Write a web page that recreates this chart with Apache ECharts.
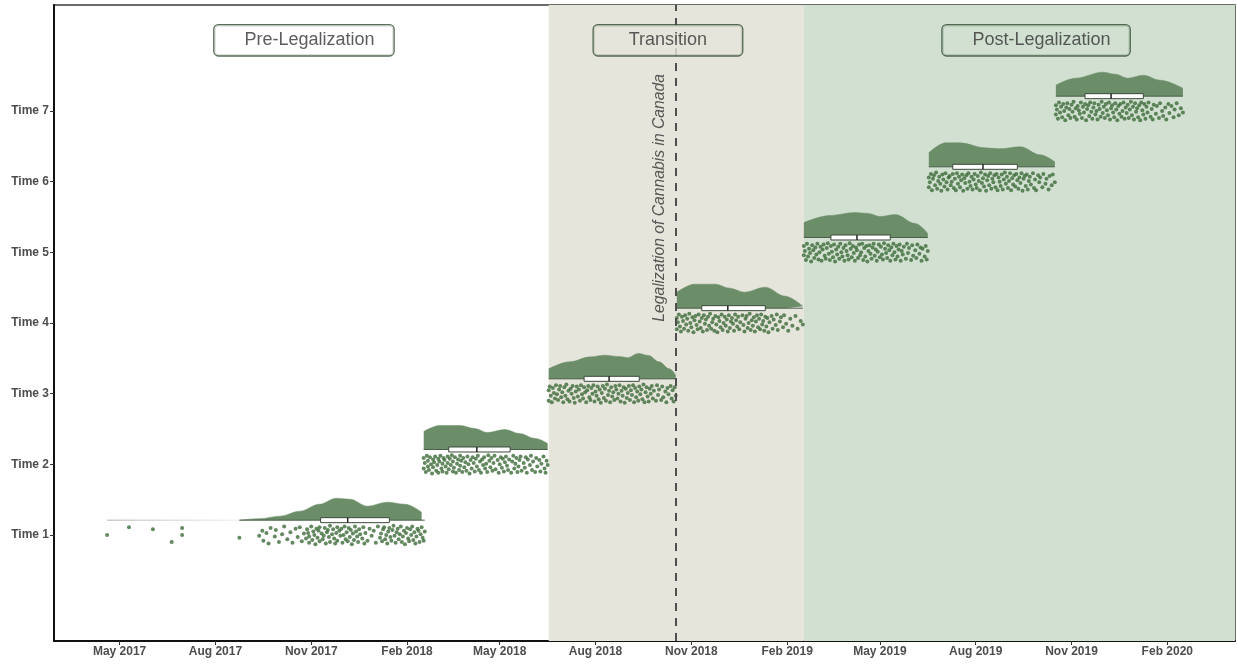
<!DOCTYPE html>
<html>
<head>
<meta charset="utf-8">
<title>Raincloud by wave</title>
<script src="https://cdn.jsdelivr.net/npm/echarts@6/dist/echarts.min.js"></script>
<style>
  html, body { margin: 0; padding: 0; background: #fff; }
  #main { width: 1237px; height: 664px; }
</style>
</head>
<body>
<div id="main"></div>
<script>
// x values are days counted from 1 Jan 2017
var tickDays = [120, 212, 304, 396, 485, 577, 669, 761, 850, 942, 1034, 1126];
var tickLabels = ['May 2017', 'Aug 2017', 'Nov 2017', 'Feb 2018', 'May 2018', 'Aug 2018',
                  'Nov 2018', 'Feb 2019', 'May 2019', 'Aug 2019', 'Nov 2019', 'Feb 2020'];
var timeValues = [1, 2, 3, 4, 5, 6, 7];
var timeLabels = ['Time 1', 'Time 2', 'Time 3', 'Time 4', 'Time 5', 'Time 6', 'Time 7'];

var transitionStart = 532;
var postStart = 777;
var legalizationDay = 654;
var phaseNames = ['Pre-Legalization', 'Transition', 'Post-Legalization'];
var legalizationText = 'Legalization of Cannabis in Canada';

// density outline of each wave: [day, height]
var violin1 = [[235,0],[254,0.02],[274,0.057],[293,0.127],[312,0.226],[328,0.311],[341,0.297],[358,0.198],[377,0.255],[394,0.226],[410,0.113]];
var violin2 = [[412,0.255],[427,0.34],[447,0.34],[461,0.297],[473,0.24],[490,0.283],[504,0.226],[519,0.156],[531,0.085]];
var violin3 = [[532,0.141],[552,0.24],[572,0.311],[586,0.335],[600,0.315],[608,0.3],[618,0.36],[628,0.33],[638,0.24],[648,0.141],[654,0.05]];
var violin4 = [[655,0.226],[672,0.34],[692,0.34],[706,0.283],[720,0.226],[740,0.297],[759,0.17],[776,0.028]];
var violin5 = [[777,0.212],[802,0.311],[826,0.354],[839,0.34],[850,0.297],[865,0.325],[884,0.198],[896,0.057]];
var violin6 = [[897,0.198],[913,0.34],[927,0.34],[951,0.269],[965,0.255],[985,0.283],[1004,0.17],[1018,0.071]];
var violin7 = [[1019,0.156],[1038,0.255],[1064,0.34],[1076,0.311],[1088,0.255],[1103,0.297],[1119,0.226],[1141,0.113]];

// box per wave: [min, q1, median, q3, max, time]
var boxes = [
  [235, 313, 339, 379, 413, 1],
  [412, 436, 463, 495, 531, 2],
  [532, 566, 590, 619, 654, 3],
  [655, 679, 704, 740, 776, 4],
  [777, 803, 828, 860, 896, 5],
  [897, 920, 949, 982, 1018, 6],
  [1019, 1047, 1072, 1103, 1141, 7]
];
var tail1 = [108, 235];

// responses: [day, jitter in hundredths of a time step]
var points1 = [[108,0],[129,11],[152,8],[170,-10],[180,10],[180,0],[235,-4],[254,-1],
  [257,6],[258,-8],[261,3],[263,-12],[265,10],[269,-2],[270,7],[273,-10],[276,1],[278,12],[281,-6],[284,4],[286,-11],[289,9],[291,-3],[293,11],[295,-9],[297,2],[299,-5],
  [300,8],[301,3],[302,-11],[302,-2],[304,12],[305,-7],[306,5],[307,0],[308,-13],[309,9],
  [310,-4],[311,6],[312,-9],[312,11],[314,2],[315,-6],[316,-1],[317,10],[318,-12],[319,4],
  [320,7],[321,-3],[322,-10],[322,13],[324,1],[325,8],[326,-5],[327,-12],[328,3],[329,11],
  [329,-8],[331,6],[332,-1],[333,9],[334,-11],[335,0],[336,12],[337,-6],[338,4],[339,-9],
  [340,10],[341,-3],[342,7],[343,-13],[344,2],[345,-7],[346,12],[347,5],[348,-2],[349,-10],
  [350,8],[351,1],[353,-5],[354,11],[355,-12],[356,3],[358,-8],[360,9],[362,-1],[364,6],
  [366,-11],[368,12],[370,-4],[371,2],[372,-9],[373,8],[374,11],[375,-6],[376,0],[377,-12],
  [378,5],[379,10],[380,-3],[381,-8],[382,7],[383,13],[384,-1],[385,-11],[386,4],[387,9],
  [388,-6],[389,1],[390,12],[391,-10],[392,-2],[393,6],[394,-13],[395,3],[396,10],[397,-5],
  [398,-9],[399,8],[400,0],[401,12],[402,-7],[403,4],[404,-12],[405,-2],[406,9],[407,6],
  [408,-10],[409,1],[410,11],[411,-4],[412,-8],[413,5]];
var points2 = [[412,-6],[412,9],[413,2],[414,-11],[415,12],[416,-3],[416,5],[417,-8],[418,10],[419,0],
  [420,-13],[421,7],[421,-4],[422,3],[423,11],[424,-9],[425,-1],[426,8],[426,-12],[427,4],
  [428,12],[429,-6],[430,1],[430,-10],[431,9],[432,6],[433,-3],[434,-12],[435,11],[435,2],
  [436,-7],[437,8],[438,-1],[439,13],[440,-10],[440,4],[441,-5],[442,10],[443,-12],[444,1],
  [445,7],[446,-8],[447,12],[447,-2],[448,5],[449,-11],[450,9],[451,-4],[452,3],[453,-9],
  [454,11],[455,0],[456,-13],[457,6],[458,-6],[459,10],[460,2],[461,-10],[462,8],[463,-3],
  [464,12],[465,-8],[466,4],[467,-12],[468,7],[469,-1],[470,10],[471,-6],[472,1],[473,-11],
  [474,13],[475,5],[476,-4],[477,9],[478,-9],[479,2],[480,12],[481,-7],[483,6],[484,-12],
  [485,0],[486,10],[487,-5],[488,8],[489,-10],[490,3],[491,11],[492,-2],[493,-8],[494,7],
  [496,-12],[497,4],[498,12],[499,-6],[500,1],[501,9],[502,-11],[503,-3],[504,6],[505,11],
  [506,-9],[508,2],[509,-5],[510,10],[511,-12],[512,7],[514,-1],[515,12],[516,-8],[517,4],
  [519,-11],[520,9],[521,-3],[523,6],[524,-10],[525,1],[527,11],[528,-6],[529,-12],[530,5],[531,-1]];
var points3 = [[532,5],[532,-10],[533,10],[534,-3],[535,-12],[536,8],[537,1],[538,-7],[539,12],[540,-1],
  [541,-9],[542,6],[543,11],[544,-5],[545,2],[546,-12],[547,9],[548,-3],[549,13],[550,-8],
  [551,4],[552,-11],[553,7],[554,0],[555,11],[556,-6],[557,-13],[558,3],[559,10],[560,-4],
  [561,6],[562,-10],[563,12],[564,-1],[565,-7],[566,9],[567,2],[568,-12],[569,5],[570,11],
  [571,-5],[572,-9],[573,8],[574,0],[575,12],[576,-11],[577,3],[578,-3],[579,10],[580,-8],
  [581,6],[582,-13],[583,1],[584,11],[585,-6],[586,7],[587,-10],[588,13],[589,-2],[590,4],
  [591,-12],[592,9],[593,-4],[594,2],[595,-9],[596,11],[597,6],[598,-7],[599,0],[600,12],
  [601,-11],[602,4],[603,-3],[604,9],[605,-13],[606,7],[607,-6],[608,1],[609,11],[610,-9],
  [611,5],[612,-2],[613,12],[614,-12],[615,8],[616,-5],[617,3],[618,-10],[619,10],[620,-1],
  [621,6],[622,-8],[623,13],[624,-12],[625,2],[626,9],[627,-4],[628,-11],[629,7],[630,0],
  [631,11],[632,-7],[633,4],[635,-10],[636,12],[637,-2],[638,6],[640,-9],[641,10],[642,-5],
  [644,3],[645,-12],[646,8],[647,-1],[649,11],[650,-7],[651,5],[652,-11],[653,9],[654,-3]];
var points4 = [[655,7],[655,-9],[656,1],[657,12],[658,-5],[659,-12],[660,9],[661,3],[662,-8],[663,11],
  [664,-2],[665,6],[666,-11],[667,13],[668,0],[669,-6],[670,8],[671,-13],[672,4],[673,10],
  [674,-3],[675,-9],[676,12],[677,2],[678,-7],[679,7],[680,-12],[681,11],[682,-1],[683,5],
  [684,-10],[685,9],[686,-4],[687,13],[688,-8],[689,1],[690,6],[691,-11],[692,10],[693,-2],
  [694,-13],[695,8],[696,3],[697,-6],[698,12],[699,-10],[700,0],[701,9],[702,-4],[703,5],
  [704,-12],[705,11],[706,-7],[707,2],[708,7],[709,-1],[710,-11],[711,12],[712,4],[713,-5],
  [714,9],[715,-9],[716,1],[718,11],[719,-3],[720,-12],[721,6],[722,10],[723,-7],[724,0],
  [725,13],[726,-10],[727,4],[728,-4],[729,8],[730,-12],[731,2],[732,11],[733,-6],[734,6],
  [735,-9],[736,12],[737,-2],[738,3],[739,-11],[740,9],[741,-5],[742,7],[743,-13],[744,1],
  [746,10],[747,-8],[748,5],[750,-3],[751,12],[752,-10],[754,2],[755,8],[757,-6],[758,11],
  [760,-1],[762,-11],[764,6],[766,-4],[769,10],[771,-8],[774,3],[776,-2]];
var points5 = [[777,-4],[777,9],[778,2],[779,-11],[780,12],[781,-6],[782,5],[783,-1],[784,-13],[785,10],
  [786,3],[787,-8],[788,7],[789,-3],[790,12],[791,-10],[792,0],[793,8],[794,-12],[795,4],
  [796,11],[797,-5],[798,-9],[799,6],[800,13],[801,-2],[802,-11],[803,9],[804,1],[805,-7],
  [806,11],[807,-13],[808,4],[809,-3],[810,8],[811,-9],[812,12],[813,0],[814,-6],[815,6],
  [816,-12],[817,10],[818,2],[819,-4],[820,-10],[821,13],[822,5],[823,-7],[824,9],[825,-1],
  [826,-12],[827,7],[828,3],[829,-8],[830,11],[831,-4],[832,0],[833,12],[834,-11],[835,6],
  [836,-6],[837,9],[838,-13],[839,2],[840,10],[841,-2],[842,-9],[843,7],[844,12],[845,-5],
  [846,4],[847,-12],[848,1],[849,11],[850,-7],[851,8],[852,-3],[853,-10],[854,13],[855,5],
  [856,-1],[857,-8],[858,10],[859,3],[860,-12],[861,7],[862,-4],[863,12],[864,0],[865,-10],
  [866,9],[867,-6],[868,4],[869,11],[870,-12],[871,2],[872,-3],[873,8],[875,-9],[876,12],
  [877,-1],[878,6],[880,-11],[881,10],[882,-5],[884,3],[885,-8],[886,11],[888,-2],[889,7],
  [890,-12],[891,5],[893,-6],[894,9],[895,-10],[896,2]];
var points6 = [[897,6],[897,-8],[898,-1],[899,11],[900,-12],[901,4],[902,9],[903,-5],[904,13],[905,-10],
  [906,1],[907,7],[908,-3],[909,-13],[910,10],[911,3],[912,-7],[913,12],[914,-1],[915,-11],
  [916,6],[917,8],[918,-5],[919,0],[920,11],[921,-9],[922,4],[923,-12],[924,12],[925,-3],
  [926,7],[927,-8],[928,2],[929,10],[930,-13],[931,5],[932,-2],[933,9],[934,-10],[935,12],
  [936,0],[937,-6],[938,7],[939,-11],[940,3],[941,11],[942,-4],[943,-9],[944,8],[945,1],
  [946,-12],[947,13],[948,-2],[949,5],[950,-7],[951,10],[952,-13],[953,2],[954,8],[955,-5],
  [956,12],[957,-10],[958,4],[959,-1],[960,9],[961,-8],[962,11],[963,-12],[964,6],[965,0],
  [966,-6],[967,10],[968,-11],[969,3],[970,13],[971,-3],[972,7],[973,-9],[974,1],[975,12],
  [976,-12],[977,5],[978,-4],[979,9],[980,-7],[981,11],[982,2],[983,-10],[984,6],[985,-2],
  [986,12],[987,-13],[988,4],[989,8],[990,-6],[991,10],[992,-11],[993,1],[994,7],[995,-4],
  [997,12],[998,-9],[999,3],[1000,-12],[1002,9],[1003,-1],[1004,6],[1006,-8],[1007,11],
  [1009,-3],[1010,4],[1012,-11],[1013,8],[1015,-5],[1016,10],[1018,-1]];
var points7 = [[1019,-5],[1019,8],[1020,2],[1021,-11],[1022,12],[1023,-2],[1024,6],[1025,-9],[1026,10],[1027,0],
  [1028,-13],[1029,5],[1030,11],[1031,-6],[1032,3],[1033,-10],[1034,9],[1035,-1],[1036,13],[1037,-8],
  [1038,4],[1039,-12],[1040,7],[1041,1],[1042,-4],[1043,12],[1044,-10],[1045,6],[1046,-2],[1047,10],
  [1048,-13],[1049,3],[1050,8],[1051,-7],[1052,12],[1053,-1],[1054,-11],[1055,5],[1056,11],[1057,-5],
  [1058,0],[1059,-12],[1060,9],[1061,3],[1062,-8],[1063,13],[1064,-3],[1065,6],[1066,-10],[1067,10],
  [1068,1],[1069,-6],[1070,12],[1071,-12],[1072,4],[1073,8],[1074,-2],[1075,-9],[1076,11],[1077,2],
  [1078,-13],[1079,7],[1080,-4],[1081,10],[1082,-8],[1083,0],[1084,12],[1085,-11],[1086,5],[1087,-3],
  [1088,9],[1089,-10],[1090,2],[1091,13],[1092,-6],[1093,6],[1094,-12],[1095,11],[1096,-1],[1097,4],
  [1098,-9],[1099,8],[1100,-13],[1101,12],[1102,1],[1103,-5],[1104,10],[1105,-11],[1106,6],[1107,-2],
  [1108,12],[1110,-8],[1111,3],[1112,-12],[1113,9],[1115,-4],[1116,7],[1118,-10],[1119,11],[1121,0],
  [1122,-7],[1124,5],[1125,-12],[1127,10],[1128,-3],[1130,7],[1132,-9],[1133,2],[1135,11],[1137,-6],
  [1139,4],[1141,-2]];

var violins = [violin1, violin2, violin3, violin4, violin5, violin6, violin7];
var clouds = [points1, points2, points3, points4, points5, points6, points7];

var rise = 0.21;      // violin sits a little above the time line
var cloudColor = '#3d6c3a';
var violinColor = '#6b8d68';
var axisText = '#4d4d4d';
var phaseFills = ['#ffffff', '#e6e5dc', '#d1e0d1'];

var chart = echarts.init(document.getElementById('main'));

var series = [];

// phase backgrounds + legalization line
series.push({
    type: 'line',
    data: [],
    z: 1,
    markArea: {
        silent: true,
        data: [
            [{ xAxis: transitionStart, itemStyle: { color: phaseFills[1] } }, { xAxis: postStart }],
            [{ xAxis: postStart, itemStyle: { color: phaseFills[2] } }, { xAxis: 'max' }]
        ]
    },
    markLine: {
        silent: true,
        symbol: 'none',
        label: { show: false },
        lineStyle: { color: '#4f4f4f', width: 2, type: [8, 7] },
        data: [{ xAxis: legalizationDay }]
    }
});

// faint tail of wave 1 before the density picks up
series.push({
    type: 'line',
    data: [[tail1[0], 1 + rise], [tail1[1], 1 + rise]],
    symbol: 'none',
    z: 2,
    lineStyle: {
        width: 1.5,
        color: new echarts.graphic.LinearGradient(0, 0, 1, 0, [
            { offset: 0, color: '#c8c8c8' },
            { offset: 1, color: 'rgba(235,235,235,0.6)' }
        ])
    }
});

violins.forEach(function (v, i) {
    var base = timeValues[i] + rise;
    series.push({
        type: 'line',
        data: v.map(function (p) { return [p[0], base + p[1]]; }),
        symbol: 'none',
        smooth: 0.35,
        smoothMonotone: 'x',
        z: 3,
        lineStyle: { width: 0.5, color: violinColor },
        areaStyle: { color: violinColor, opacity: 1, origin: base }
    });
});

clouds.forEach(function (pts, i) {
    series.push({
        type: 'scatter',
        data: pts.map(function (p) { return [p[0], timeValues[i] + p[1] / 100]; }),
        symbolSize: 4,
        z: 3,
        itemStyle: { color: cloudColor, opacity: 0.8 }
    });
});

series.push({
    type: 'custom',
    z: 4,
    data: boxes,
    encode: { x: [0, 1, 2, 3, 4], y: 5 },
    renderItem: function (params, api) {
        var base = api.value(5) + rise;
        var a = api.coord([api.value(0), base]);
        var q1 = api.coord([api.value(1), base]);
        var md = api.coord([api.value(2), base]);
        var q3 = api.coord([api.value(3), base]);
        var b = api.coord([api.value(4), base]);
        var h = 5;
        return {
            type: 'group',
            children: [
                { type: 'line', shape: { x1: a[0], y1: a[1], x2: b[0], y2: b[1] }, style: { stroke: '#4b5e49', lineWidth: 1 } },
                { type: 'rect', shape: { x: q1[0], y: q1[1] - h / 2, width: q3[0] - q1[0], height: h },
                  style: { fill: '#ffffff', stroke: '#3b4a3a', lineWidth: 1 } },
                { type: 'line', shape: { x1: md[0], y1: md[1] - h / 2, x2: md[0], y2: md[1] + h / 2 },
                  style: { stroke: '#222', lineWidth: 1.5 } }
            ]
        };
    }
});

// annotation labels
function phaseLabel(fill, padding) {
    return {
        show: true,
        position: 'inside',
        fontFamily: 'Liberation Sans, Arial, sans-serif',
        fontSize: 18,
        lineHeight: 18,
        color: '#333',
        backgroundColor: fill,
        borderColor: '#2f4a2f',
        borderWidth: 1.3,
        borderRadius: 4,
        padding: padding
    };
}
series.push({
    type: 'scatter',
    symbolSize: 0,
    z: 5,
    silent: true,
    data: [
        { value: [297, 8.0, phaseNames[0]], label: phaseLabel(phaseFills[0], [6, 19, 6, 30]) },
        { value: [646.5, 8.0, phaseNames[1]], label: phaseLabel(phaseFills[1], [6, 35, 6, 35]) },
        { value: [1000, 8.0, phaseNames[2]], label: phaseLabel(phaseFills[2], [6, 19, 6, 30]) },
        { value: [639, 5.77, legalizationText], label: {
            show: true, position: 'inside', rotate: 90,
            fontFamily: 'Liberation Sans, Arial, sans-serif',
            fontSize: 15.7, fontStyle: 'italic', color: '#333',
            backgroundColor: phaseFills[1], padding: [0, 2]
        } }
    ],
    label: { formatter: function (p) { return p.value[2]; } }
});

var option = {
    animation: false,
    grid: {
        left: 54, right: 2, top: 5, bottom: 23,
        show: true,
        backgroundColor: '#fff',
        borderColor: '#3a3a3a',
        borderWidth: 1.5
    },
    xAxis: {
        type: 'value',
        min: 57,
        max: 1191,
        splitLine: { show: false },
        axisLine: { onZero: false, lineStyle: { color: '#111', width: 2 } },
        axisTick: { customValues: tickDays, length: 4, lineStyle: { color: '#333' } },
        axisLabel: {
            customValues: tickDays,
            margin: 5,
            fontFamily: 'Liberation Sans, Arial, sans-serif',
            fontSize: 12,
            fontWeight: 'bold',
            color: axisText,
            formatter: function (v) { return tickLabels[tickDays.indexOf(v)] || ''; }
        }
    },
    yAxis: {
        type: 'value',
        min: -0.5,
        max: 8.5,
        splitLine: { show: false },
        axisLine: { onZero: false, lineStyle: { color: '#111', width: 2 } },
        axisTick: { customValues: timeValues, length: 4, lineStyle: { color: '#333' } },
        axisLabel: {
            customValues: timeValues,
            margin: 5,
            fontFamily: 'Liberation Sans, Arial, sans-serif',
            fontSize: 12,
            fontWeight: 'bold',
            color: axisText,
            formatter: function (v) { return timeLabels[timeValues.indexOf(v)] || ''; }
        }
    },
    series: series
};

chart.setOption(option);
</script>
</body>
</html>
